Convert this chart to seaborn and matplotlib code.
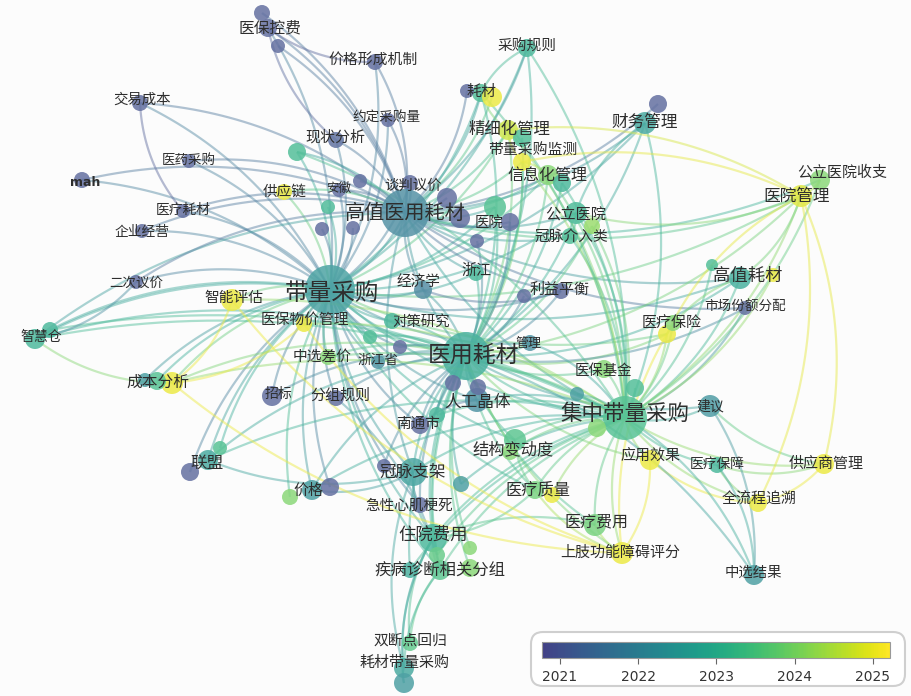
import numpy as np
import pandas as pd
import matplotlib
matplotlib.use("Agg")
import matplotlib.pyplot as plt
import seaborn as sns
from matplotlib.collections import LineCollection
from matplotlib.colors import ListedColormap, Normalize
from matplotlib.cm import ScalarMappable
from matplotlib.patches import FancyBboxPatch

sns.set_theme(style="white")
plt.rcParams['font.family'] = ['Noto Sans CJK SC', 'DejaVu Sans']

# ---------------- data ----------------
# node id, layout x, layout y, radius weight, average publication year
node_ids = [
    "医保控费", "价格形成机制", "交易成本", "约定采购量", "现状分析", "医药采购", "mah", "供应链", "安徽",
    "谈判议价", "高值医用耗材", "医疗耗材", "企业经营", "采购规则", "耗材", "精细化管理", "财务管理",
    "带量采购监测", "信息化管理", "公立医院收支", "医院管理", "公立医院", "医院", "冠脉介入类", "带量采购",
    "二次议价", "智能评估", "经济学", "浙江", "利益平衡", "高值耗材", "市场份额分配", "智慧仓",
    "医保物价管理", "对策研究", "医疗保险", "医用耗材", "管理", "中选差价", "浙江省", "医保基金",
    "成本分析", "招标", "分组规则", "人工晶体", "集中带量采购", "建议", "南通市", "结构变动度", "联盟",
    "应用效果", "医疗保障", "供应商管理", "冠脉支架", "价格", "急性心肌梗死", "医疗质量", "全流程追溯",
    "住院费用", "医疗费用", "疾病诊断相关分组", "上肢功能障碍评分", "中选结果", "双断点回归", "耗材带量采购",
    "u_k1", "u_k2", "u_g1", "u_g2", "u_g3", "u_g4", "u_g5", "u_g6", "u_g7", "u_g8", "u_h1", "u_h2",
    "u_j1", "u_f1", "u_s1", "u_n1", "u_m1", "u_m2", "u_y1", "u_y2", "u_w1", "u_q1", "u_c1", "u_c2",
    "u_cb1", "u_cb2", "u_r1", "u_r2", "u_j2", "u_l1", "u_l2", "u_p1", "u_p2", "u_a1", "u_j3", "u_v1",
    "u_p3", "u_z1", "u_z2", "u_z3", "u_z4", "u_e1", "u_b1", "u_b2", "u_b3",
]
node_x = [
    268, 375, 140, 388, 336, 189, 82, 284, 339,
    410, 405, 183, 142, 527, 481, 508, 645,
    522, 548, 820, 801, 576, 495, 570, 330,
    136, 232, 423, 476, 561, 740, 745, 35,
    304, 392, 667, 466, 530, 328, 378, 604,
    172, 272, 336, 477, 625, 710, 420, 515, 208,
    650, 717, 824, 413, 312, 420, 535, 758,
    433, 595, 440, 622, 754, 410, 404,
    262, 278, 297, 328, 322, 353, 360, 447, 460, 477, 467, 492,
    522, 658, 562, 592, 510, 524, 773, 712, 50, 673, 370, 400,
    157, 145, 453, 478, 437, 190, 220, 330, 290, 384, 461, 510,
    552, 437, 470, 410, 470, 404, 577, 635, 597,
]
node_y = [
    28, 62, 103, 120, 140, 161, 180, 192, 190,
    183, 213, 211, 231, 48, 93, 130, 123,
    162, 175, 180, 196, 213, 207, 236, 290,
    282, 300, 290, 273, 291, 278, 308, 339,
    324, 321, 334, 356, 343, 357, 362, 369,
    383, 396, 398, 400, 418, 406, 425, 440, 460,
    460, 465, 464, 472, 490, 505, 490, 503,
    538, 525, 570, 553, 575, 643, 668,
    13, 46, 152, 207, 229, 228, 181, 198, 218, 241, 91, 97,
    138, 104, 183, 226, 222, 296, 275, 265, 330, 323, 337, 347,
    381, 380, 383, 387, 415, 472, 448, 487, 497, 466, 484, 452,
    495, 555, 568, 570, 548, 683, 394, 388, 428,
]
node_r = [
    9, 8, 8, 7, 8, 7, 8, 8, 7,
    8, 24, 7, 7, 9, 9, 10, 11,
    9, 10, 10, 11, 11, 11, 8, 25,
    7, 11, 9, 8, 8, 11, 7, 10,
    8, 8, 9, 24, 8, 8, 7, 9,
    11, 10, 8, 12, 22, 11, 9, 11, 10,
    10, 8, 10, 14, 10, 8, 9, 9,
    14, 11, 10, 11, 10, 8, 10,
    8, 7, 9, 7, 7, 7, 7, 10, 10, 7, 7, 10,
    9, 9, 9, 8, 9, 7, 7, 6, 8, 8, 7, 7,
    9, 7, 8, 8, 8, 9, 7, 9, 8, 7, 8, 8,
    8, 8, 9, 8, 7, 10, 7, 9, 9,
]
node_year = [
    2021.0, 2021.0, 2021.0, 2021.0, 2021.1, 2021.0, 2021.0, 2025.0, 2021.0,
    2021.0, 2021.9, 2021.0, 2021.0, 2023.0, 2023.2, 2024.7, 2022.6,
    2025.0, 2024.0, 2024.0, 2024.9, 2023.1, 2023.3, 2023.2, 2022.4,
    2021.0, 2025.0, 2021.8, 2023.0, 2021.0, 2022.8, 2021.0, 2023.0,
    2025.0, 2023.0, 2025.0, 2022.8, 2022.0, 2024.0, 2022.0, 2024.0,
    2025.0, 2021.0, 2021.0, 2022.0, 2023.3, 2022.2, 2021.0, 2023.4, 2022.6,
    2025.0, 2023.0, 2025.0, 2022.5, 2022.3, 2021.0, 2023.8, 2025.0,
    2023.0, 2023.8, 2023.4, 2025.0, 2022.3, 2023.5, 2022.6,
    2021.0, 2021.0, 2023.2, 2023.1, 2021.0, 2021.0, 2021.0, 2021.0, 2021.0, 2021.0, 2021.0, 2025.0,
    2023.2, 2021.0, 2023.0, 2024.2, 2021.0, 2021.0, 2025.0, 2023.2, 2023.0, 2024.0, 2023.2, 2021.0,
    2023.3, 2022.3, 2021.0, 2021.0, 2023.0, 2021.0, 2023.3, 2021.0, 2024.0, 2021.0, 2022.3, 2024.0,
    2025.0, 2023.6, 2024.0, 2022.8, 2024.0, 2022.3, 2022.3, 2023.2, 2024.0,
]

# labels: text, position, size tier
label_text = [
    "医保控费", "价格形成机制", "交易成本", "约定采购量", "现状分析", "医药采购", "mah", "供应链", "安徽",
    "谈判议价", "高值医用耗材", "医疗耗材", "企业经营", "采购规则", "耗材", "精细化管理", "财务管理",
    "带量采购监测", "信息化管理", "公立医院收支", "医院管理", "公立医院", "医院", "冠脉介入类", "带量采购",
    "二次议价", "智能评估", "经济学", "浙江", "利益平衡", "高值耗材", "市场份额分配", "智慧仓",
    "医保物价管理", "对策研究", "医疗保险", "医用耗材", "管理", "中选差价", "浙江省", "医保基金",
    "成本分析", "招标", "分组规则", "人工晶体", "集中带量采购", "建议", "南通市", "结构变动度", "联盟",
    "应用效果", "医疗保障", "供应商管理", "冠脉支架", "价格", "急性心肌梗死", "医疗质量", "全流程追溯",
    "住院费用", "医疗费用", "疾病诊断相关分组", "上肢功能障碍评分", "中选结果", "双断点回归", "耗材带量采购",
]
label_x = [
    270, 373, 142, 387, 335, 189, 85, 285, 339,
    413, 405, 183, 142, 527, 482, 509, 645,
    533, 547, 842, 797, 576, 489, 571, 332,
    136, 234, 418, 476, 560, 748, 745, 41,
    305, 421, 672, 474, 528, 322, 378, 603,
    158, 278, 340, 478, 625, 710, 418, 513, 207,
    650, 717, 826, 413, 308, 409, 538, 759,
    433, 597, 440, 620, 753, 410, 405,
]
label_y = [
    28, 60, 100, 118, 137, 160, 182, 192, 188,
    186, 213, 210, 232, 47, 92, 129, 122,
    150, 175, 172, 196, 215, 223, 237, 293,
    283, 298, 282, 271, 290, 276, 306, 337,
    320, 322, 323, 355, 343, 357, 360, 371,
    382, 394, 396, 402, 414, 406, 424, 450, 463,
    456, 464, 464, 472, 491, 506, 490, 500,
    535, 522, 570, 553, 573, 641, 663,
]
label_pt = [
    11.3, 10.7, 10.4, 9.8, 10.8, 9.7, 9.0, 10.5, 9.0,
    10.4, 14.5, 9.9, 9.9, 10.6, 10.8, 11.8, 12.0,
    10.7, 11.5, 10.8, 12.0, 11.0, 10.4, 10.6, 17.0,
    9.7, 10.6, 10.5, 10.8, 10.8, 12.5, 9.8, 10.0,
    10.6, 10.4, 10.8, 16.5, 9.4, 10.6, 9.8, 10.4,
    11.3, 10.0, 10.8, 12.0, 15.5, 10.0, 10.5, 11.7, 12.0,
    10.8, 9.9, 10.8, 12.0, 10.8, 10.5, 11.7, 10.8,
    12.5, 11.5, 11.8, 10.8, 10.4, 10.6, 10.8,
]

# co-occurrence links
links_dl = ["医保控费", "交易成本", "医药采购", "mah", "医疗耗材", "企业经营", "二次议价", "智慧仓", "智能评估",
            "医保物价管理", "成本分析", "联盟", "招标", "分组规则", "价格", "冠脉支架", "住院费用",
            "疾病诊断相关分组", "现状分析", "价格形成机制", "约定采购量", "高值医用耗材", "医用耗材",
            "集中带量采购", "经济学", "对策研究", "中选差价", "浙江省", "谈判议价", "安徽", "供应链",
            "公立医院", "高值耗材", "医疗保险", "精细化管理", "耗材", "信息化管理", "财务管理", "采购规则",
            "医院管理", "南通市", "人工晶体", "急性心肌梗死", "医疗质量", "结构变动度", "u_cb1", "u_cb2",
            "u_l1", "u_l2", "u_p1", "u_p2", "u_g1", "u_g2", "u_g3", "u_g4", "浙江", "利益平衡", "医院",
            "管理", "u_w1", "u_c1", "u_c2"]
links_gz = ["医保控费", "u_k1", "u_k2", "价格形成机制", "约定采购量", "现状分析", "交易成本", "mah", "医疗耗材",
            "企业经营", "谈判议价", "安徽", "供应链", "医院", "公立医院", "冠脉介入类", "高值耗材", "利益平衡",
            "浙江", "耗材", "u_h1", "u_h2", "精细化管理", "采购规则", "财务管理", "u_f1", "信息化管理",
            "带量采购监测", "冠脉支架", "医用耗材", "集中带量采购", "医院管理", "公立医院收支", "智慧仓",
            "二次议价", "医药采购", "u_g1", "u_g5", "u_g6", "u_g7", "市场份额分配", "u_m1", "经济学"]
links_yy = ["精细化管理", "耗材", "采购规则", "带量采购监测", "信息化管理", "公立医院", "医院", "医疗保险",
            "高值耗材", "市场份额分配", "管理", "医保基金", "人工晶体", "南通市", "结构变动度", "住院费用",
            "疾病诊断相关分组", "冠脉支架", "价格", "联盟", "成本分析", "智慧仓", "浙江省", "中选差价",
            "对策研究", "医疗质量", "医疗费用", "集中带量采购", "建议", "应用效果", "医院管理", "财务管理",
            "浙江", "分组规则", "招标", "u_r1", "u_r2", "u_n1", "u_c1", "u_j1", "u_j2", "u_s1", "u_z1",
            "u_z2", "u_z3", "上肢功能障碍评分", "急性心肌梗死", "利益平衡", "经济学", "u_m1", "u_m2",
            "u_c2", "u_a1", "u_g8", "u_z4", "u_j3"]
links_jz = ["医疗保障", "供应商管理", "全流程追溯", "应用效果", "医疗费用", "上肢功能障碍评分",
            "医疗质量", "结构变动度", "建议", "医保基金", "医疗保险", "高值耗材", "市场份额分配", "公立医院",
            "冠脉介入类", "信息化管理", "精细化管理", "住院费用", "疾病诊断相关分组", "冠脉支架", "人工晶体",
            "联盟", "价格", "智能评估", "医保物价管理", "成本分析", "医院管理", "公立医院收支", "管理",
            "财务管理", "带量采购监测", "耗材", "u_y1", "u_q1", "u_z1", "u_z3", "u_j3", "u_j2", "u_g1",
            "采购规则", "中选差价", "u_p3", "u_b1", "u_b2", "u_b3", "u_v1", "u_y2", "智慧仓", "u_w1",
            "u_n1", "u_s1"]
extra_src = ["住院费用", "住院费用", "住院费用", "冠脉支架", "疾病诊断相关分组", "疾病诊断相关分组", "医疗费用",
             "医疗质量", "医疗保障", "全流程追溯", "医疗保障", "医院管理", "高值耗材", "智慧仓", "成本分析",
             "医保控费", "冠脉支架", "冠脉支架", "价格", "联盟", "疾病诊断相关分组", "结构变动度", "医院管理",
             "公立医院", "耗材", "精细化管理", "信息化管理", "财务管理", "采购规则", "中选结果", "建议", "中选结果",
             "高值耗材", "智慧仓", "冠脉介入类", "住院费用", "医疗费用", "人工晶体", "经济学", "医保控费",
             "交易成本", "耗材带量采购", "住院费用", "智慧仓", "成本分析", "成本分析", "智能评估", "医保物价管理",
             "上肢功能障碍评分", "全流程追溯", "医疗保险", "医院管理", "医院管理", "应用效果", "供应商管理",
             "中选结果", "中选结果"]
extra_dst = ["疾病诊断相关分组", "双断点回归", "耗材带量采购", "耗材带量采购", "双断点回归", "耗材带量采购",
             "上肢功能障碍评分", "上肢功能障碍评分", "供应商管理", "供应商管理", "全流程追溯", "公立医院收支",
             "医院管理", "二次议价", "智能评估", "价格形成机制", "急性心肌梗死", "住院费用", "冠脉支架",
             "冠脉支架", "分组规则", "医疗质量", "医疗保险", "医院管理", "精细化管理", "带量采购监测",
             "带量采购监测", "公立医院", "耗材", "建议", "供应商管理", "医疗保障", "医疗保险", "成本分析",
             "公立医院", "医疗质量", "住院费用", "南通市", "利益平衡", "现状分析", "医疗耗材", "u_e1", "u_e1",
             "u_w1", "医保物价管理", "上肢功能障碍评分", "上肢功能障碍评分", "上肢功能障碍评分", "应用效果",
             "医院管理", "上肢功能障碍评分", "精细化管理", "带量采购监测", "全流程追溯", "医院管理",
             "集中带量采购", "医用耗材"]

year_ticks = [2021, 2022, 2023, 2024, 2025]

# ---------------- build tables ----------------
nodes = pd.DataFrame({"id": node_ids, "x": node_x, "y": node_y, "r": node_r, "year": node_year})
nodes["area"] = (2 * nodes["r"] * 0.72) ** 2
pos = {i: (x, y) for i, x, y in zip(node_ids, node_x, node_y)}
yr = dict(zip(node_ids, node_year))

src, dst = [], []
for hub, lst in [("带量采购", links_dl), ("高值医用耗材", links_gz), ("医用耗材", links_yy), ("集中带量采购", links_jz)]:
    for t in lst:
        src.append(hub)
        dst.append(t)
src += extra_src
dst += extra_dst
edges = pd.DataFrame({"src": src, "dst": dst})

base = plt.cm.viridis(np.linspace(0.19, 1.0, 256))
cmap = ListedColormap(base)
# lighter version used for the nodes and links (washed out in the reference)
light = base.copy()
light[:, :3] = light[:, :3] * 0.8 + 0.2
node_cmap = ListedColormap(light)
norm = Normalize(2020.77, 2025.22)

# ---------------- figure ----------------
fig = plt.figure(figsize=(9.12, 6.96), dpi=100)
fig.patch.set_facecolor("#fcfcfc")
ax = fig.add_axes([0, 0, 1, 1])
ax.set_facecolor("#fcfcfc")

t = np.linspace(0, 1, 40)[:, None]
segs, cols = [], []
for s, d in zip(edges["src"], edges["dst"]):
    p0 = np.array(pos[s], float)
    p2 = np.array(pos[d], float)
    v = p2 - p0
    c = (p0 + p2) / 2 + 0.17 * np.array([-v[1], v[0]])
    curve = (1 - t) ** 2 * p0 + 2 * (1 - t) * t * c + t ** 2 * p2
    segs.append(curve)
    cols.append(node_cmap(norm((yr[s] + yr[d]) / 2)))
lc = LineCollection(segs, colors=cols, linewidths=1.6, alpha=0.48, zorder=1)
ax.add_collection(lc)

amin, amax = nodes["area"].min(), nodes["area"].max()
sns.scatterplot(data=nodes, x="x", y="y", hue="year", palette=node_cmap, hue_norm=norm,
                size="area", sizes=(amin, amax), size_norm=(amin, amax),
                alpha=0.85, linewidth=0, legend=False, ax=ax, zorder=2)
ax.set_xlim(0, 912)
ax.set_ylim(696, 0)
ax.axis("off")

for txt, lx, ly, fs in zip(label_text, label_x, label_y, label_pt):
    fam = ['DejaVu Sans'] if txt == "mah" else ['Noto Sans CJK SC', 'DejaVu Sans']
    ax.text(lx, ly, txt, fontsize=fs, ha="center", va="center", color="#2e2e2e",
            family=fam, fontweight="bold" if txt == "mah" else "normal", zorder=3)

# colorbar legend box
box = FancyBboxPatch((5.31, 0.10), 3.74, 0.54, boxstyle="round,pad=0,rounding_size=0.12",
                     transform=fig.dpi_scale_trans, facecolor="white", edgecolor="#cfcfcf",
                     linewidth=1.5, zorder=5)
fig.add_artist(box)
cax = fig.add_axes([542 / 912, 38 / 696, 348 / 912, 16 / 696])
cax.set_zorder(10)
cb = fig.colorbar(ScalarMappable(norm=norm, cmap=cmap), cax=cax, orientation="horizontal", ticks=year_ticks)
cb.ax.set_xticklabels([str(y) for y in year_ticks], family="DejaVu Sans")
cb.ax.tick_params(direction="inout", length=9, width=0.8, color="#666666", labelsize=10,
                  labelcolor="#333333", pad=4)
cb.outline.set_edgecolor("#999999")
cb.outline.set_linewidth(0.8)

fig.savefig("out.png", dpi=100, facecolor=fig.get_facecolor())
